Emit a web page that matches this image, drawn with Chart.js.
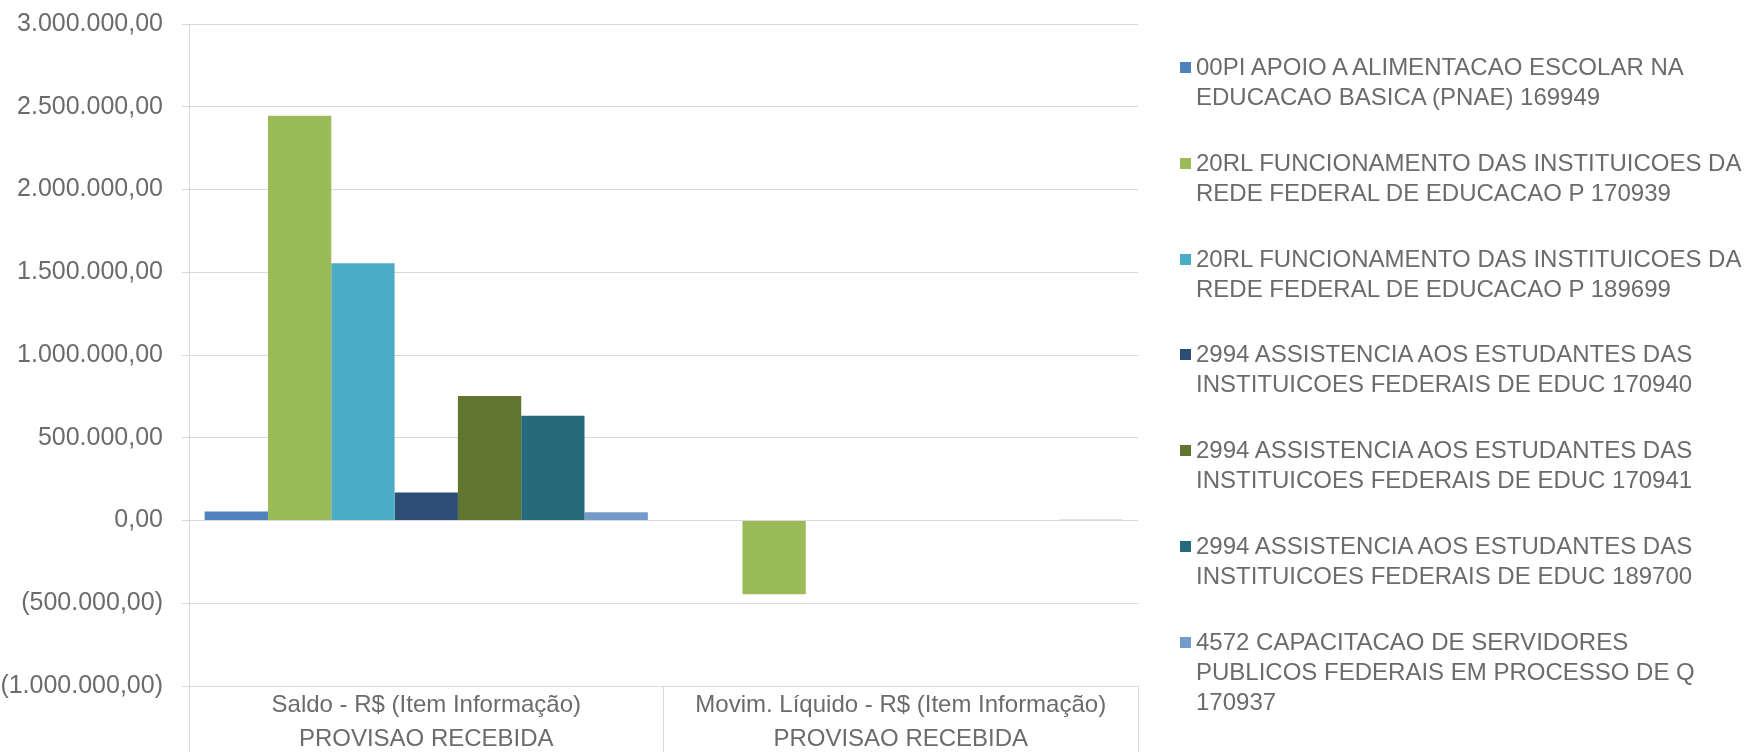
<!DOCTYPE html>
<html>
<head>
<meta charset="utf-8">
<script src="https://cdn.jsdelivr.net/npm/chart.js@4/dist/chart.umd.min.js"></script>
<style>
  html, body { margin: 0; padding: 0; background: #fff; }
  #wrap { position: relative; width: 1749px; height: 752px; }
  #legend { position: absolute; left: 1180px; top: 52px; font-family: "Liberation Sans", Arial, sans-serif; font-size: 24px; color: #6b6b6b; }
  .item { position: relative; height: 95.8px; padding-left: 16px; line-height: 30px; white-space: nowrap; }
  .item span.box { position: absolute; left: 0; top: 10px; width: 11px; height: 11px; }
</style>
</head>
<body>
<div id="wrap">
  <canvas id="chart"></canvas>
  <div id="legend"></div>
</div>
<script>
// categorias (duas linhas cada)
const categories = [
    ['Saldo - R$ (Item Informação)', 'PROVISAO RECEBIDA'],
    ['Movim. Líquido - R$ (Item Informação)', 'PROVISAO RECEBIDA']
];

// nomes das séries, já quebrados como na legenda
const seriesNames = [
    ['00PI APOIO A ALIMENTACAO ESCOLAR NA', 'EDUCACAO BASICA (PNAE) 169949'],
    ['20RL FUNCIONAMENTO DAS INSTITUICOES DA', 'REDE FEDERAL DE EDUCACAO P 170939'],
    ['20RL FUNCIONAMENTO DAS INSTITUICOES DA', 'REDE FEDERAL DE EDUCACAO P 189699'],
    ['2994 ASSISTENCIA AOS ESTUDANTES DAS', 'INSTITUICOES FEDERAIS DE EDUC 170940'],
    ['2994 ASSISTENCIA AOS ESTUDANTES DAS', 'INSTITUICOES FEDERAIS DE EDUC 170941'],
    ['2994 ASSISTENCIA AOS ESTUDANTES DAS', 'INSTITUICOES FEDERAIS DE EDUC 189700'],
    ['4572 CAPACITACAO DE SERVIDORES', 'PUBLICOS FEDERAIS EM PROCESSO DE Q', '170937']
];

// valores por série: [Saldo, Movim. Líquido]
const pnae169949 = [54000, 0];
const func170939 = [2446000, -446000];
const func189699 = [1554000, 0];
const assist170940 = [169000, 0];
const assist170941 = [753000, 0];
const assist189700 = [633000, 0];
const capac170937 = [50000, 5000];

const seriesValues = [pnae169949, func170939, func189699, assist170940, assist170941, assist189700, capac170937];
const seriesColors = ['#4F81BD', '#9BBB59', '#4BACC6', '#2C4D75', '#5F7530', '#276A7C', '#729ACA'];

// eixo Y
const yMin = -1000000;
const yMax = 3000000;
const yStep = 500000;

function formatBR(v) {
    const parts = Math.abs(v).toFixed(2).split('.');
    const inteiro = parts[0].replace(/\B(?=(\d{3})+(?!\d))/g, '.');
    const txt = inteiro + ',' + parts[1];
    return v < 0 ? '(' + txt + ')' : txt;
}

const gridColor = '#d9d9d9';
const textColor = '#6b6b6b';
const fontFamily = '"Liberation Sans", Arial, sans-serif';

const ctx = document.getElementById('chart').getContext('2d');
const chart = new Chart(ctx, {
    type: 'bar',
    data: {
        labels: categories,
        datasets: seriesValues.map((vals, i) => ({
            label: seriesNames[i].join(' '),
            data: vals,
            backgroundColor: seriesColors[i],
            borderWidth: 0,
            categoryPercentage: 0.934,
            barPercentage: 1.0
        }))
    },
    options: {
        responsive: true,
        maintainAspectRatio: false,
        animation: false,
        layout: {
            padding: { top: 24, right: 611, bottom: 0, left: 0 }
        },
        plugins: {
            legend: { display: false },
            tooltip: { enabled: false }
        },
        scales: {
            x: {
                grid: {
                    offset: true,
                    drawOnChartArea: false,
                    color: gridColor,
                    tickLength: 66
                },
                border: { color: gridColor },
                ticks: {
                    color: textColor,
                    padding: -63,
                    maxRotation: 0,
                    font: { family: fontFamily, size: 24, lineHeight: 1.4 }
                },
                afterFit: function (scale) {
                    scale.height = 66;
                    scale.paddingLeft = 0;
                    scale.paddingRight = 0;
                }
            },
            y: {
                min: yMin,
                max: yMax,
                grid: {
                    color: gridColor,
                    tickLength: 7
                },
                border: { color: gridColor },
                ticks: {
                    stepSize: yStep,
                    color: textColor,
                    padding: 19,
                    font: { family: fontFamily, size: 25 },
                    callback: (v) => formatBR(v)
                },
                afterFit: function (scale) {
                    scale.width = 189;
                    scale.paddingTop = 0;
                    scale.paddingBottom = 0;
                }
            }
        }
    }
});

// legenda em HTML montada a partir dos datasets
const legend = document.getElementById('legend');
chart.data.datasets.forEach((ds, i) => {
    const item = document.createElement('div');
    item.className = 'item';
    item.innerHTML = '<span class="box" style="background:' + ds.backgroundColor + '"></span>' + seriesNames[i].join('<br>');
    legend.appendChild(item);
});
</script>
</body>
</html>
